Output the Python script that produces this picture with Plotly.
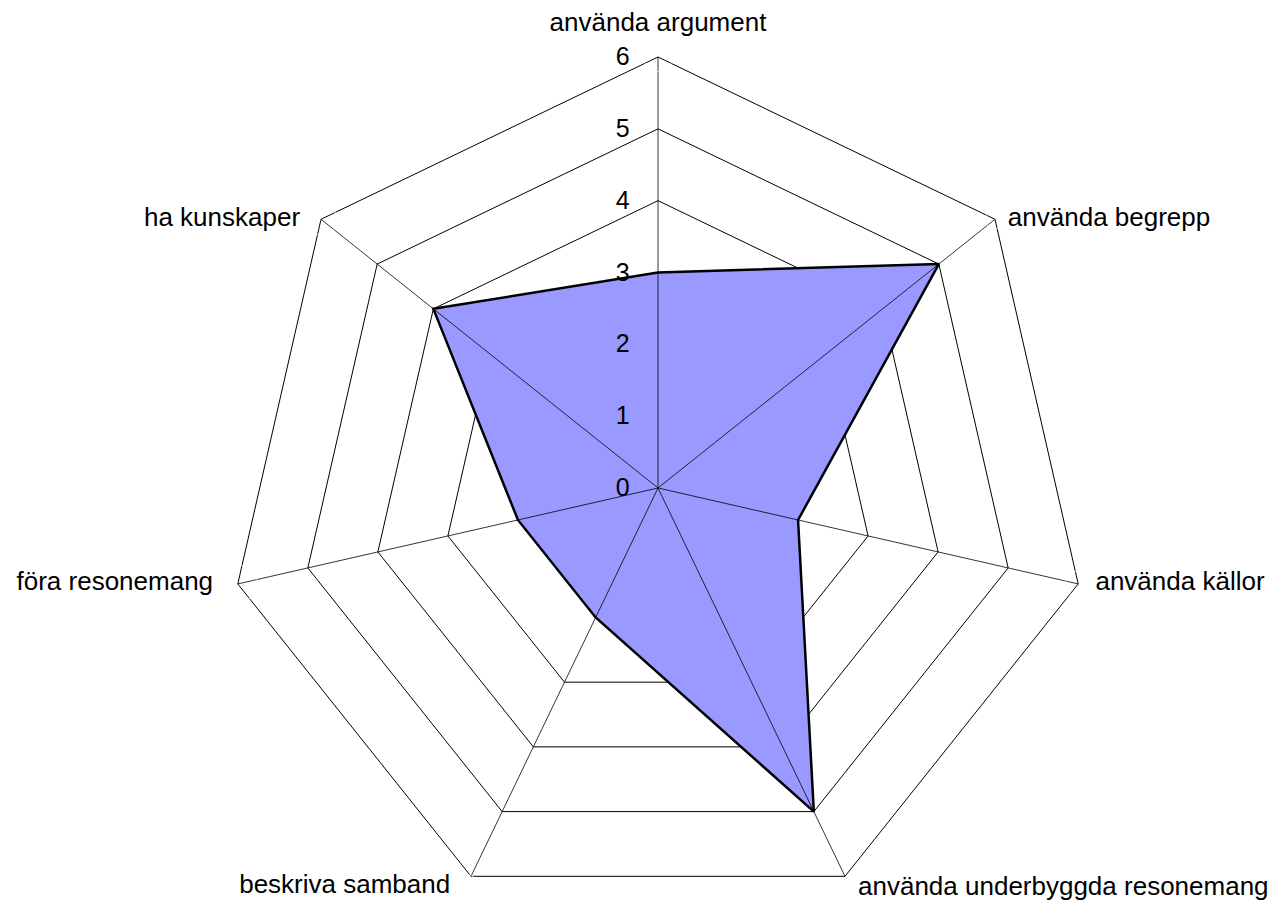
import plotly.graph_objects as go

categories = [
    "använda argument",
    "använda begrepp",
    "använda källor",
    "använda underbyggda resonemang",
    "beskriva samband",
    "föra resonemang",
    "ha kunskaper",
]
values = [3, 5, 2, 5, 2, 2, 4]
radial_ticks = [0, 1, 2, 3, 4, 5, 6]
r_max = 6

# label placement styling (one entry per category)
label_pos = ["top center", "middle right", "middle right", "middle right",
             "middle left", "middle left", "middle left"]
label_pad = [29, 19, 26, 10, 24, 38, 32]      # invisible marker size -> text offset
label_r = [6, 6, 6, 6.185, 6.155, 6, 6]

# figure size (page adds an 8px body margin)
W, H = 1283, 934
cx, cy, R = 650, 480, 431
r_view = 6.3                     # radial range slightly beyond the outer ring
Rd = R * r_view / r_max

fig = go.Figure()

# filled series
fig.add_trace(go.Scatterpolar(
    r=values + [values[0]],
    theta=categories + [categories[0]],
    mode="lines",
    fill="toself",
    fillcolor="#9999FF",
    line=dict(color="black", width=2.5),
    hoverinfo="skip",
    showlegend=False,
))

# spokes drawn above the fill
for c in categories:
    fig.add_trace(go.Scatterpolar(
        r=[0, r_max],
        theta=[c, c],
        mode="lines",
        line=dict(color="black", width=0.8),
        hoverinfo="skip",
        showlegend=False,
    ))

# category labels at the outer vertices
fig.add_trace(go.Scatterpolar(
    r=label_r,
    theta=categories,
    mode="markers+text",
    text=categories,
    textposition=label_pos,
    textfont=dict(family="Liberation Sans, Arial, sans-serif", size=26, color="black"),
    marker=dict(size=label_pad, color="rgba(0,0,0,0)"),
    cliponaxis=False,
    hoverinfo="skip",
    showlegend=False,
))

fig.update_layout(
    width=W,
    height=H,
    margin=dict(l=0, r=0, t=0, b=0),
    paper_bgcolor="white",
    plot_bgcolor="white",
    font=dict(family="Liberation Sans, Arial, sans-serif", size=25, color="black"),
    polar=dict(
        domain=dict(x=[(cx - Rd) / W, (cx + Rd) / W],
                    y=[max(0, 1 - (cy + Rd) / H), 1 - (cy - Rd) / H]),
        gridshape="linear",
        bgcolor="white",
        radialaxis=dict(
            range=[0, r_view],
            tickvals=radial_ticks,
            angle=90,
            side="counterclockwise",
            showline=False,
            gridcolor="black",
            gridwidth=0.8,
            ticks="outside",
            ticklen=19,
            tickcolor="rgba(0,0,0,0)",
            tickfont=dict(size=25),
            tickangle=90,
        ),
        angularaxis=dict(
            rotation=90,
            direction="clockwise",
            showline=False,
            showgrid=False,
            ticks="",
            showticklabels=False,
        ),
    ),
)

fig.write_html("out.html")
